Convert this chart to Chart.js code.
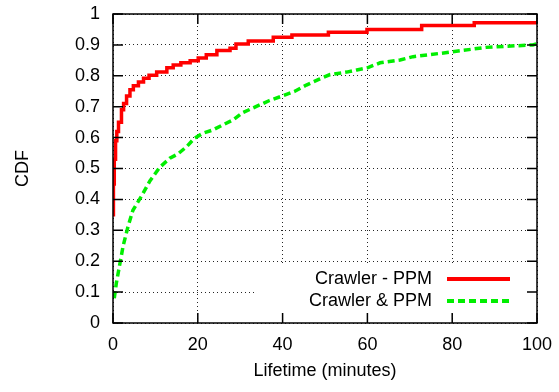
<!DOCTYPE html>
<html>
<head>
<meta charset="utf-8">
<script src="https://cdn.jsdelivr.net/npm/chart.js@4/dist/chart.umd.min.js"></script>
<style>
  body { margin: 0; background: #fff; }
</style>
</head>
<body>
<canvas id="myChart" width="559" height="392"></canvas>
<script>
// CDF of lifetime
var redLabel = "Crawler - PPM";
var redX = [0, 0.1, 0.3, 0.6, 0.9, 1.3, 2, 2.5, 3.2, 4, 4.8, 6, 7.2, 8.5, 10.3, 12.7, 14.2, 16, 18.2, 20.1, 22, 24.5, 27.6, 29, 31.9, 37.8, 42.2, 50.8, 59.9, 72.8, 85.2, 100];
var redY = [0.35, 0.45, 0.53, 0.59, 0.62, 0.65, 0.69, 0.71, 0.735, 0.755, 0.768, 0.78, 0.792, 0.802, 0.812, 0.826, 0.835, 0.842, 0.849, 0.858, 0.868, 0.882, 0.889, 0.903, 0.913, 0.925, 0.932, 0.941, 0.95, 0.963, 0.972, 0.972];

var greenLabel = "Crawler & PPM";
var greenX = [0.3, 0.8, 1.6, 2.4, 3.5, 4.7, 6.7, 8.7, 11.1, 13.4, 15.4, 17.4, 19.2, 21.2, 23.6, 25.9, 28.3, 30.6, 33.7, 36.9, 40, 42.9, 45.6, 48.8, 51.2, 55.1, 57.5, 60, 63, 67.7, 70.8, 77.4, 81.8, 88, 99, 100];
var greenY = [0.08, 0.13, 0.19, 0.25, 0.31, 0.365, 0.41, 0.46, 0.505, 0.533, 0.548, 0.571, 0.598, 0.614, 0.625, 0.641, 0.657, 0.681, 0.7, 0.72, 0.735, 0.75, 0.77, 0.79, 0.804, 0.812, 0.819, 0.826, 0.842, 0.851, 0.862, 0.873, 0.881, 0.892, 0.9, 0.904];

var xTicks = [0, 20, 40, 60, 80, 100];
var yTicks = [0, 0.1, 0.2, 0.3, 0.4, 0.5, 0.6, 0.7, 0.8, 0.9, 1];

var FONT = "'Liberation Sans', Arial, sans-serif";

function toPoints(xs, ys) {
  return xs.map(function (x, i) { return { x: x, y: ys[i] }; });
}

// gnuplot-like frame: white key box, border, inward ticks, key
var gnuplotFrame = {
  id: "gnuplotFrame",
  beforeDatasetsDraw: function (chart) {
    var ctx = chart.ctx, a = chart.chartArea;
    ctx.save();
    ctx.fillStyle = "#fff";
    ctx.fillRect(257, 266, a.right - 257, 46);
    ctx.restore();
  },
  afterDatasetsDraw: function (chart) {
    var ctx = chart.ctx, a = chart.chartArea;
    var xs = chart.scales.x, ys = chart.scales.y;
    ctx.save();
    ctx.strokeStyle = "#000";
    ctx.lineWidth = 1.5;
    ctx.beginPath();
    xTicks.forEach(function (t) {
      var px = xs.getPixelForValue(t);
      ctx.moveTo(px, a.bottom); ctx.lineTo(px, a.bottom - 10);
      ctx.moveTo(px, a.top); ctx.lineTo(px, a.top + 10);
    });
    yTicks.forEach(function (t) {
      var py = ys.getPixelForValue(t);
      ctx.moveTo(a.left, py); ctx.lineTo(a.left + 10, py);
      ctx.moveTo(a.right, py); ctx.lineTo(a.right - 10, py);
    });
    ctx.stroke();
    ctx.strokeRect(a.left, a.top, a.right - a.left, a.bottom - a.top);

    // key
    ctx.font = "18px " + FONT;
    ctx.fillStyle = "#000";
    ctx.textAlign = "right";
    ctx.textBaseline = "middle";
    ctx.fillText(redLabel, 432, 279);
    ctx.fillText(greenLabel, 432, 301);
    ctx.lineWidth = 4;
    ctx.strokeStyle = "#ff0000";
    ctx.beginPath(); ctx.moveTo(447, 279); ctx.lineTo(510, 279); ctx.stroke();
    ctx.strokeStyle = "#00ee00";
    ctx.setLineDash([7, 4]);
    ctx.beginPath(); ctx.moveTo(447, 301); ctx.lineTo(510, 301); ctx.stroke();
    ctx.restore();
  }
};

var ctx = document.getElementById("myChart").getContext("2d");
new Chart(ctx, {
  type: "line",
  data: {
    datasets: [
      {
        label: redLabel,
        data: toPoints(redX, redY),
        borderColor: "#ff0000",
        borderWidth: 3.5,
        stepped: true,
        pointRadius: 0,
        fill: false
      },
      {
        label: greenLabel,
        data: toPoints(greenX, greenY),
        borderColor: "#00ee00",
        borderWidth: 3.5,
        borderDash: [7, 4],
        tension: 0,
        pointRadius: 0,
        fill: false
      }
    ]
  },
  options: {
    responsive: false,
    animation: false,
    layout: { padding: { left: 0, right: 22, top: 14, bottom: 0 } },
    plugins: {
      legend: { display: false },
      tooltip: { enabled: false }
    },
    scales: {
      x: {
        type: "linear",
        min: 0,
        max: 100,
        afterFit: function (s) {
          s.height = 69;
          s.paddingLeft = 0;
          s.paddingRight = 0;
        },
        afterBuildTicks: function (s) { s.ticks = xTicks.map(function (v) { return { value: v }; }); },
        ticks: { color: "#000", font: { family: FONT, size: 18 }, padding: 11, maxRotation: 0 },
        grid: { color: "rgba(0,0,0,0.85)", lineWidth: 1, drawTicks: false },
        border: { display: false, dash: [1, 3] },
        title: {
          display: true,
          text: "Lifetime (minutes)",
          color: "#000",
          font: { family: FONT, size: 18 },
          padding: { top: 0, bottom: 10 }
        }
      },
      y: {
        type: "linear",
        min: 0,
        max: 1,
        afterFit: function (s) {
          s.width = 113;
          s.paddingTop = 0;
          s.paddingBottom = 0;
        },
        afterBuildTicks: function (s) { s.ticks = yTicks.map(function (v) { return { value: v }; }); },
        ticks: {
          color: "#000",
          font: { family: FONT, size: 18 },
          padding: 13,
          callback: function (v) { return String(+v.toFixed(1)); }
        },
        grid: { color: "rgba(0,0,0,0.85)", lineWidth: 1, drawTicks: false },
        border: { display: false, dash: [1, 3] },
        title: {
          display: true,
          text: "CDF",
          color: "#000",
          font: { family: FONT, size: 18 },
          padding: { top: 12, bottom: 0 }
        }
      }
    }
  },
  plugins: [gnuplotFrame]
});
</script>
</body>
</html>
